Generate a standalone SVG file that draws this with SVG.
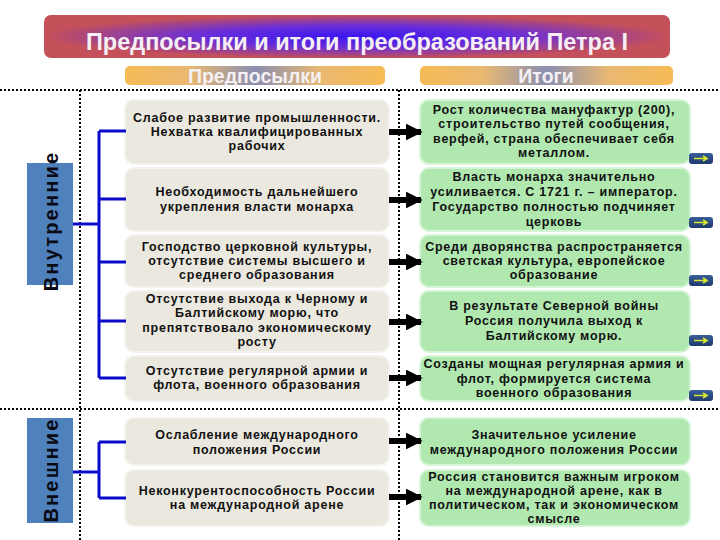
<svg xmlns="http://www.w3.org/2000/svg" width="720" height="540" viewBox="0 0 720 540">
<defs>
<radialGradient id="titleG" cx="0.5" cy="0.5" r="0.5">
<stop offset="0" stop-color="#3A16F2"/>
<stop offset="0.5" stop-color="#6A2ED8"/>
<stop offset="1" stop-color="#C4505A"/>
</radialGradient>
<linearGradient id="hdrG" x1="0" y1="0" x2="1" y2="0">
<stop offset="0" stop-color="#F6BB55"/>
<stop offset="0.25" stop-color="#E9B872"/>
<stop offset="0.5" stop-color="#8A8FB0"/>
<stop offset="0.75" stop-color="#E9B872"/>
<stop offset="1" stop-color="#F6BB55"/>
</linearGradient>
<linearGradient id="iconG" x1="0" y1="0" x2="0" y2="1">
<stop offset="0" stop-color="#3A5E9A"/>
<stop offset="1" stop-color="#1E3A6E"/>
</linearGradient>
<marker id="ah" viewBox="0 0 10 10" refX="9" refY="5" markerWidth="2.8" markerHeight="2.8" orient="auto" markerUnits="strokeWidth">
<path d="M0,0 L10,5 L0,10 z" fill="#000"/>
</marker>
<g id="icon">
<rect x="0" y="0" width="24" height="11" rx="3" fill="url(#iconG)"/>
<path d="M5,5.5 H17 M14,3 L18,5.5 L14,8" stroke="#D8E830" stroke-width="1.6" fill="none"/>
</g>
</defs>
<style>
.lbox{fill:#EBE8DF;stroke:#F4F2EC;stroke-width:2}
.rbox{fill:#B0E8B0;stroke:#D6F4D6;stroke-width:2}
.t{font-family:"Liberation Sans",Arial,sans-serif;font-weight:bold;font-size:12.5px;letter-spacing:0.75px;fill:#111;text-anchor:middle}
.dot{stroke:#000;stroke-width:2;stroke-dasharray:2 2;fill:none}
.blue{stroke:#0A0ACC;stroke-width:3;fill:none}
.arr{stroke:#000;stroke-width:6;fill:none;marker-end:url(#ah)}
.side{fill:#4F81BD}
.sidet{font-family:"Liberation Sans",Arial,sans-serif;font-weight:bold;font-size:20px;letter-spacing:2.2px;fill:#0A0A14;text-anchor:middle}
.hdrt{font-family:"Liberation Sans",Arial,sans-serif;font-weight:bold;font-size:19.5px;fill:#F4F0F4;text-anchor:middle}
</style>
<rect width="720" height="540" fill="#fff"/>

<g id="title">
<rect x="44" y="15" width="626" height="43" rx="7" fill="url(#titleG)"/>
<text x="357" y="50" font-family="'Liberation Sans',Arial,sans-serif" font-weight="bold" font-size="23.5px" fill="#F6EEF2" text-anchor="middle">Предпосылки и итоги преобразований Петра I</text>
</g>

<g id="hdr-pre">
<rect x="125" y="66" width="260" height="19" rx="5" fill="url(#hdrG)"/>
<text class="hdrt" x="255" y="83">Предпосылки</text>
</g>
<g id="hdr-res">
<rect x="420" y="66" width="253" height="19" rx="5" fill="url(#hdrG)"/>
<text class="hdrt" x="546" y="83">Итоги</text>
</g>

<g id="grid">
<line class="dot" x1="0" y1="90" x2="720" y2="90"/>
<line class="dot" x1="0" y1="409" x2="720" y2="409"/>
<line class="dot" x1="80" y1="90" x2="80" y2="540"/>
<line class="dot" x1="399" y1="90" x2="399" y2="540"/>
</g>

<g id="side-internal">
<rect class="side" x="27" y="163" width="46" height="122"/>
<text class="sidet" transform="translate(58 221) rotate(-90)">Внутренние</text>
</g>
<g id="side-external">
<rect class="side" x="27" y="418" width="46" height="105"/>
<text class="sidet" transform="translate(58 470) rotate(-90)">Внешние</text>
</g>

<g id="l1"><rect class="lbox" x="125" y="100" width="264" height="64" rx="9"/>
<text class="t" x="257" y="122">Слабое развитие промышленности.</text>
<text class="t" x="257" y="136">Нехватка квалифицированных</text>
<text class="t" x="257" y="150">рабочих</text></g>
<g id="l2"><rect class="lbox" x="125" y="168" width="264" height="63" rx="9"/>
<text class="t" x="257" y="196">Необходимость дальнейшего</text>
<text class="t" x="257" y="211">укрепления власти монарха</text></g>
<g id="l3"><rect class="lbox" x="125" y="235" width="264" height="52" rx="9"/>
<text class="t" x="257" y="251">Господство церковной культуры,</text>
<text class="t" x="257" y="265">отсутствие системы высшего и</text>
<text class="t" x="257" y="279">среднего образования</text></g>
<g id="l4"><rect class="lbox" x="125" y="291" width="264" height="61" rx="9"/>
<text class="t" x="257" y="303">Отсутствие выхода к Черному и</text>
<text class="t" x="257" y="317">Балтийскому морю, что</text>
<text class="t" x="257" y="332">препятствовало экономическому</text>
<text class="t" x="257" y="346">росту</text></g>
<g id="l5"><rect class="lbox" x="125" y="356" width="264" height="45" rx="9"/>
<text class="t" x="257" y="375">Отсутствие регулярной армии и</text>
<text class="t" x="257" y="389">флота, военного образования</text></g>
<g id="l6"><rect class="lbox" x="125" y="418" width="264" height="47" rx="9"/>
<text class="t" x="257" y="439">Ослабление международного</text>
<text class="t" x="257" y="454">положения  России</text></g>
<g id="l7"><rect class="lbox" x="125" y="470" width="264" height="56" rx="9"/>
<text class="t" x="257" y="495">Неконкурентоспособность России</text>
<text class="t" x="257" y="509">на международной арене</text></g>

<g id="r1"><rect class="rbox" x="420" y="100" width="270" height="64" rx="9"/>
<text class="t" x="554" y="114">Рост количества мануфактур (200),</text>
<text class="t" x="554" y="128">строительство путей сообщения,</text>
<text class="t" x="554" y="143">верфей, страна обеспечивает себя</text>
<text class="t" x="554" y="157">металлом.</text></g>
<g id="r2"><rect class="rbox" x="420" y="168" width="270" height="63" rx="9"/>
<text class="t" x="554" y="181">Власть монарха значительно</text>
<text class="t" x="554" y="196">усиливается. С 1721 г. – император.</text>
<text class="t" x="554" y="211">Государство полностью подчиняет</text>
<text class="t" x="554" y="226">церковь</text></g>
<g id="r3"><rect class="rbox" x="420" y="235" width="270" height="52" rx="9"/>
<text class="t" x="554" y="251">Среди дворянства распространяется</text>
<text class="t" x="554" y="265">светская культура, европейское</text>
<text class="t" x="554" y="279">образование</text></g>
<g id="r4"><rect class="rbox" x="420" y="291" width="270" height="61" rx="9"/>
<text class="t" x="554" y="310">В результате Северной войны</text>
<text class="t" x="554" y="325">Россия получила выход к</text>
<text class="t" x="554" y="340">Балтийскому морю.</text></g>
<g id="r5"><rect class="rbox" x="420" y="356" width="270" height="45" rx="9"/>
<text class="t" x="554" y="368">Созданы мощная регулярная армия и</text>
<text class="t" x="554" y="383">флот, формируется система</text>
<text class="t" x="554" y="397">военного образования</text></g>
<g id="r6"><rect class="rbox" x="420" y="418" width="270" height="47" rx="9"/>
<text class="t" x="554" y="439">Значительное усиление</text>
<text class="t" x="554" y="454">международного положения России</text></g>
<g id="r7"><rect class="rbox" x="420" y="470" width="270" height="56" rx="9"/>
<text class="t" x="554" y="481">Россия становится важным игроком</text>
<text class="t" x="554" y="495">на международной арене, как в</text>
<text class="t" x="554" y="509">политическом, так и экономическом</text>
<text class="t" x="554" y="523">смысле</text></g>

<g id="icons">
<use href="#icon" x="689" y="153"/>
<use href="#icon" x="689" y="217"/>
<use href="#icon" x="689" y="275"/>
<use href="#icon" x="689" y="335"/>
<use href="#icon" x="689" y="390"/>
</g>

<g id="connectors">
<path class="blue" d="M73,224 H99 M99,131 V378 M99,131 H126 M99,199 H126 M99,262 H126 M99,321 H126 M99,378 H126"/>
<path class="blue" d="M73,472 H99 M99,442 V498 M99,442 H126 M99,498 H126"/>
<line class="arr" x1="389" y1="132" x2="421" y2="132"/>
<line class="arr" x1="389" y1="200" x2="421" y2="200"/>
<line class="arr" x1="389" y1="262" x2="421" y2="262"/>
<line class="arr" x1="389" y1="322" x2="421" y2="322"/>
<line class="arr" x1="389" y1="378" x2="421" y2="378"/>
<line class="arr" x1="389" y1="441" x2="421" y2="441"/>
<line class="arr" x1="389" y1="497" x2="421" y2="497"/>
</g>
</svg>
